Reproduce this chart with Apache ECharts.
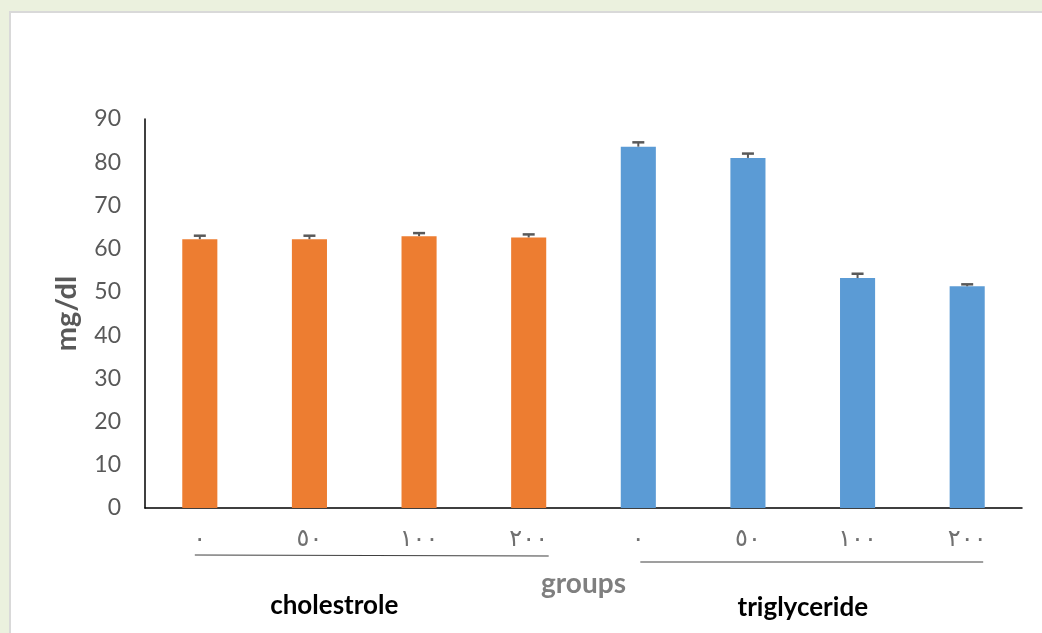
<!DOCTYPE html>
<html>
<head>
<meta charset="utf-8">
<script src="https://cdn.jsdelivr.net/npm/echarts@6/dist/echarts.min.js"></script>
<style>
  html, body { margin: 0; padding: 0; background: #ebf1de; }
  #chart { width: 1042px; height: 633px; }
</style>
</head>
<body>
<div id="chart"></div>
<script>
var categories = ['٠', '٥٠', '١٠٠', '٢٠٠', '٠', '٥٠', '١٠٠', '٢٠٠'];
var values = [62.2, 62.2, 62.9, 62.6, 83.6, 81.0, 53.2, 51.3];
var errors = [0.8, 0.8, 0.7, 0.7, 1.0, 1.0, 1.0, 0.45];
var groups = ['cholestrole', 'triglyceride'];
var groupColors = ['#ed7d31', '#5b9bd5'];
var yTicks = [0, 90, 10];

var myChart = echarts.init(document.getElementById('chart'));

var barData = values.map(function (v, i) {
    return { value: v, itemStyle: { color: groupColors[i < 4 ? 0 : 1] } };
});
var errData = values.map(function (v, i) {
    return [i, v, v + errors[i]];
});

function renderError(params, api) {
    var x = api.value(0);
    var base = api.coord([x, api.value(1)]);
    var top = api.coord([x, api.value(2)]);
    var half = 6;
    return {
        type: 'group',
        children: [{
            type: 'line',
            shape: { x1: base[0], y1: base[1], x2: top[0], y2: top[1] },
            style: { stroke: '#595959', lineWidth: 2 }
        }, {
            type: 'line',
            shape: { x1: top[0] - half, y1: top[1], x2: top[0] + half, y2: top[1] },
            style: { stroke: '#595959', lineWidth: 2.5 }
        }]
    };
}

var option = {
    backgroundColor: '#ebf1de',
    animation: false,
    textStyle: { fontFamily: 'Lato' },
    grid: { left: 145, right: 20, top: 119, bottom: 125 },
    xAxis: {
        type: 'category',
        data: categories,
        axisLine: { lineStyle: { color: '#000', width: 1.5 } },
        axisTick: { show: false },
        axisLabel: { color: '#707070', fontSize: 24, margin: 20, fontFamily: 'DejaVu Sans' },
        name: 'groups',
        nameLocation: 'middle',
        nameGap: 62,
        nameTextStyle: { color: '#7f7f7f', fontSize: 28, fontWeight: 'bold' }
    },
    yAxis: {
        type: 'value',
        min: yTicks[0],
        max: yTicks[1],
        interval: yTicks[2],
        splitLine: { show: false },
        axisLine: { show: true, lineStyle: { color: '#000', width: 1.5 } },
        axisTick: { show: false },
        axisLabel: { color: '#595959', fontSize: 23, margin: 24 },
        name: 'mg/dl',
        nameLocation: 'middle',
        nameGap: 64,
        nameTextStyle: { color: '#595959', fontSize: 29, fontWeight: 'bold' }
    },
    series: [{
        type: 'bar',
        data: barData,
        barWidth: '32%'
    }, {
        type: 'custom',
        renderItem: renderError,
        data: errData,
        z: 3
    }]
};

myChart.setOption(option);

// panel, group underlines and group labels placed from the axis scale
var px = function (i) { return myChart.convertToPixel({ xAxisIndex: 0 }, i); };
var gfx = [{
    type: 'rect',
    z: -10,
    shape: { x: 10, y: 12, width: 1040, height: 630 },
    style: { fill: '#ffffff', stroke: '#d9d9d9', lineWidth: 2 }
}];
var lineY = [555, 562];
var lineStart = [-5, 2];
var lineEnd = [20, 16];
var labelShift = [-30, 0];
groups.forEach(function (g, k) {
    var a = px(k * 4), b = px(k * 4 + 3);
    gfx.push({
        type: 'line',
        shape: { x1: a + lineStart[k], y1: lineY[k], x2: b + lineEnd[k], y2: lineY[k] + (k === 0 ? 1 : 0) },
        style: { stroke: '#404040', lineWidth: 1.2 }
    });
    gfx.push({
        type: 'text',
        x: (a + b) / 2 + labelShift[k],
        y: 606 + k * 2,
        style: {
            text: g, fill: '#000', fontSize: 26, fontWeight: 'bold',
            fontFamily: 'Lato', align: 'center', verticalAlign: 'middle'
        }
    });
});
myChart.setOption({ graphic: gfx });
</script>
</body>
</html>
